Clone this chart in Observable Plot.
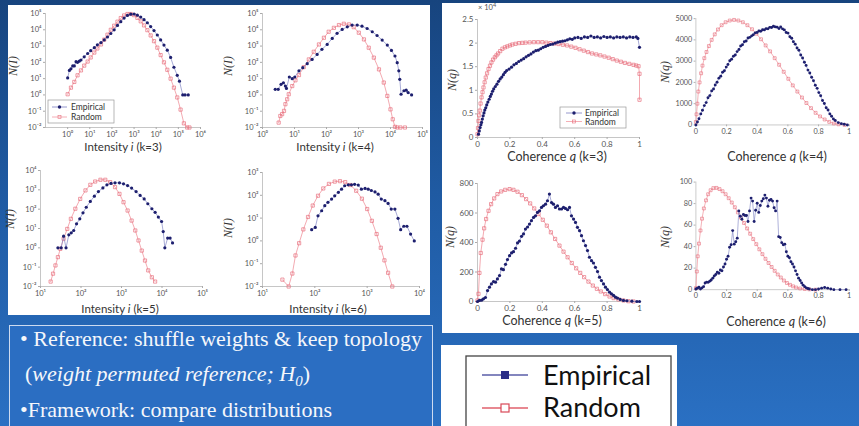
<!DOCTYPE html>
<html><head><meta charset="utf-8">
<script src="https://cdn.jsdelivr.net/npm/d3@7"></script>
<script src="https://cdn.jsdelivr.net/npm/@observablehq/plot@0.6"></script>
<style>
html,body{margin:0;padding:0;background:#1d4f90;}
#page{position:relative;width:859px;height:426px;overflow:hidden;background:linear-gradient(180deg,#17447e 0%,#1f5aa2 45%,#2a70c3 100%);}
.panel{position:absolute;background:#fff;}
.chart{position:absolute;}
.chart svg{display:block;}
#overlay{position:absolute;left:0;top:0;}
.al{font-family:Lato,"Open Sans",sans-serif;font-size:11.5px;fill:#333;text-anchor:middle;}
.cl{font-family:Lato,"Open Sans",sans-serif;font-size:12.5px;fill:#333;text-anchor:middle;}
.nl{font-family:"Liberation Serif",serif;font-style:italic;font-size:12px;fill:#333;text-anchor:middle;}
.lg{font-family:Lato,sans-serif;font-size:8.5px;fill:#333;}
.bt{font-family:"Liberation Serif","Times New Roman",serif;font-size:22px;fill:#f5f7fb;}
.bl{font-family:Lato,"Open Sans",sans-serif;font-size:27px;fill:#111;}
</style></head><body>
<div id="page">
  <div class="panel" style="left:8px;top:5px;width:422px;height:310px"></div>
  <div class="panel" style="left:442px;top:3px;width:417px;height:330px"></div>
  <div style="position:absolute;left:9px;top:325px;width:424px;height:120px;background:#2b6ec2;border:1.5px solid #cddbf0;box-sizing:border-box"></div>
  <div class="panel" style="left:441px;top:345px;width:236px;height:81px"></div>
  <div id="charts"></div>
  <svg id="overlay" width="859" height="426">
    <!-- axis labels -->
    <text class="al" x="123" y="151">Intensity <tspan font-style="italic">i</tspan> (k=3)</text>
    <text class="al" x="335" y="151">Intensity <tspan font-style="italic">i</tspan> (k=4)</text>
    <text class="al" x="120" y="313">Intensity <tspan font-style="italic">i</tspan> (k=5)</text>
    <text class="al" x="328" y="313">Intensity <tspan font-style="italic">i</tspan> (k=6)</text>
    <text class="cl" x="557" y="161">Coherence <tspan font-style="italic">q</tspan> (k=3)</text>
    <text class="cl" x="777" y="161">Coherence <tspan font-style="italic">q</tspan> (k=4)</text>
    <text class="cl" x="552" y="325">Coherence <tspan font-style="italic">q</tspan> (k=5)</text>
    <text class="cl" x="776" y="326">Coherence <tspan font-style="italic">q</tspan> (k=6)</text>
    <text class="nl" transform="translate(17,66) rotate(-90)">N(I)</text>
    <text class="nl" transform="translate(232,66) rotate(-90)">N(I)</text>
    <text class="nl" transform="translate(14,219) rotate(-90)">N(I)</text>
    <text class="nl" transform="translate(232,228) rotate(-90)">N(I)</text>
    <text class="nl" transform="translate(456,80) rotate(-90)">N(q)</text>
    <text class="nl" transform="translate(669,72) rotate(-90)">N(q)</text>
    <text class="nl" transform="translate(454,237) rotate(-90)">N(q)</text>
    <text class="nl" transform="translate(669,237) rotate(-90)">N(q)</text>
    <text x="478" y="10" font-family="Lato,sans-serif" font-size="7.5" fill="#555">× 10<tspan dy="-3" font-size="5.5">4</tspan></text>
    <!-- small legend k=3 intensity -->
    <rect x="48" y="100" width="66" height="23" fill="#fff" stroke="#999" stroke-width="0.7"/>
    <line x1="52" x2="67" y1="107" y2="107" stroke="#7b7fc0" stroke-width="0.8"/>
    <circle cx="59.5" cy="107" r="1.7" fill="#1d1f6e"/>
    <text class="lg" x="71" y="110">Empirical</text>
    <line x1="52" x2="67" y1="117" y2="117" stroke="#f29aa3" stroke-width="0.8"/>
    <rect x="58" y="115.5" width="3" height="3" fill="none" stroke="#e8707e" stroke-width="0.6"/>
    <text class="lg" x="71" y="120">Random</text>
    <!-- small legend k=3 coherence -->
    <rect x="560" y="107" width="66" height="21" fill="#fff" stroke="#999" stroke-width="0.7"/>
    <line x1="566" x2="582" y1="113" y2="113" stroke="#7b7fc0" stroke-width="0.8"/>
    <circle cx="574" cy="113" r="1.7" fill="#1d1f6e"/>
    <text class="lg" x="585" y="116">Empirical</text>
    <line x1="566" x2="582" y1="121.5" y2="121.5" stroke="#f29aa3" stroke-width="0.8"/>
    <rect x="572.5" y="120" width="3" height="3" fill="none" stroke="#e8707e" stroke-width="0.6"/>
    <text class="lg" x="585" y="124.5">Random</text>
    <!-- big legend -->
    <rect x="466" y="356" width="205" height="80" fill="#fff" stroke="#444" stroke-width="1.3"/>
    <line x1="482" x2="528" y1="375" y2="375" stroke="#5a5ea8" stroke-width="1.3"/>
    <rect x="501" y="371" width="8" height="8" fill="#2b2e87"/>
    <text class="bl" x="543" y="385">Empirical</text>
    <line x1="482" x2="528" y1="408" y2="408" stroke="#e0606c" stroke-width="1.3"/>
    <rect x="501" y="404" width="8" height="8" fill="#fff" stroke="#d94858" stroke-width="1.2"/>
    <text class="bl" x="543" y="417">Random</text>
    <!-- bullet text -->
    <text class="bt" x="20" y="346">• Reference: shuffle weights &amp; keep topology</text>
    <text class="bt" x="25" y="381">(<tspan font-style="italic">weight permuted reference; H</tspan><tspan font-style="italic" font-size="15" dy="5">0</tspan><tspan dy="-5">)</tspan></text>
    <text class="bt" x="20" y="417">•Framework: compare distributions</text>
  </svg>
</div>
<script>
// ---------- DATA : [x, y] pairs ----------
// Intensity distributions (log-log)
const intEmpK3 = [[1,11],[1.2,32],[1.41,40],[1.7,60],[2,60],[2.4,110],[2.8,100],[3.4,120],[4,140],[5.6,220],[8,350],[11,520],[16,800],[22,1200],[32,1650],[45,2400],[63,3600],[89,5900],[126,10000],[178,18600],[251,31600],[355,52500],[501,76000],[708,91000],[1000,93000],[1413,79000],[1995,60000],[2818,42000],[3981,27000],[5623,15800],[7943,8900],[11220,4800],[15849,2400],[22387,1150],[31623,560],[44668,200],[63096,50],[89125,16],[112000,7],[158000,1],[200000,1],[280000,1]];
const intRndK3 = [[1,1.1],[1.41,2.8],[2,6.3],[2.8,16],[4,32],[5.6,63],[8,112],[11,200],[16,400],[22,710],[32,1260],[45,2500],[63,5000],[89,10000],[126,17800],[178,31600],[251,52500],[355,76000],[501,93000],[708,93000],[1000,79000],[1413,54000],[1995,33000],[2818,18600],[3981,9500],[5623,4500],[7943,2000],[11220,800],[15849,280],[22387,100],[31623,35],[44668,10],[63096,2.8],[89125,0.7],[125893,0.126],[177828,0.018],[251189,0.01],[316000,0.01]];
const intEmpK4 = [[2.5,2.2],[3.1,2.2],[3.8,4.5],[4.5,5.6],[5.2,3.5],[5.6,2.5],[6.9,12.6],[8.5,10],[10.2,12.6],[13.8,30],[18.2,47],[25,83],[35.5,151],[51,309],[72,631],[105,1259],[151,2951],[214,6026],[309,10471],[447,15136],[631,19498],[912,19498],[1288,16596],[1862,12023],[2692,7586],[3802,4467],[5495,2344],[7943,1148],[10715,537],[13804,245],[16218,95],[18197,30],[19498,9.1],[21380,1.1],[26300,1.8],[30900,1.95],[35500,1.4],[45700,1]];
const intRndK4 = [[3.2,0.02],[3.6,0.051],[4.1,0.066],[4.7,0.105],[5.2,0.27],[5.9,0.54],[6.6,1.1],[8.5,3.5],[10.7,7.9],[13.8,16.6],[19.5,51],[28,151],[40,447],[58,1259],[83,3236],[117,7586],[170,13183],[245,19498],[347,23442],[501,21380],[708,14454],[1023,6607],[1479,2570],[2089,794],[3020,195],[4365,37],[6166,5.75],[7943,0.87],[10000,0.13],[11749,0.032],[13800,0.011],[16218,0.01],[20417,0.01],[28184,0.01]];
const intEmpK5 = [[26.9,1],[32.4,1],[37.2,4],[42.7,1],[50.1,4.7],[57.5,6],[66,7.9],[77.6,17.4],[93.3,31.6],[112,64.6],[135,126],[170,251],[214,468],[269,813],[347,1259],[437,1820],[550,2138],[692,2291],[891,2291],[1122,2042],[1413,1660],[1778,1230],[2291,813],[2884,513],[3631,339],[4467,191],[5623,105],[6761,69],[8128,39],[9772,23],[10715,6.9],[11749,1],[13804,3.2],[15849,3.2],[18197,1.8]];
const intRndK5 = [[17.8,0.018],[20.4,0.046],[23.4,0.123],[26.9,0.33],[30.9,0.89],[37.2,2.95],[45.7,9.5],[56.2,31.6],[72.4,105],[95.5,339],[129,933],[170,1820],[224,2692],[302,3311],[398,3311],[525,2512],[692,1380],[891,617],[1122,229],[1413,85],[1778,25.7],[2188,7.9],[2630,2.4],[3162,0.72],[3802,0.22],[4571,0.068],[5623,0.03],[6761,0.018]];
const intEmpK6 = [[87,3.1],[102,3.9],[115,12.6],[135,21],[155,35],[178,49],[209,68],[240,95],[282,135],[324,186],[372,263],[437,288],[501,288],[575,302],[676,282],[776,186],[912,200],[1047,186],[1202,162],[1413,141],[1622,112],[1862,68],[2188,58],[2512,44],[2884,25],[3388,25],[3890,9.8],[4365,3.1],[5012,4.4],[5754,4.4],[6761,2],[7943,1]];
const intRndK6 = [[24,0.02],[31.6,0.01],[37.2,0.037],[42.7,0.23],[50.1,0.79],[60.3,3.2],[74.1,11.2],[91.2,35.5],[115,95.5],[145,200],[186,316],[240,398],[302,417],[380,380],[479,282],[617,158],[794,71],[1000,25],[1230,7.6],[1514,2],[1820,0.5],[2138,0.14],[2512,0.04],[3020,0.01]];

// Coherence distributions (linear)
const cohEmpK3 = [[0.006,700],[0.011,1400],[0.016,2100],[0.021,2700],[0.025,3200],[0.03,3900],[0.035,4600],[0.04,5200],[0.045,5800],[0.051,6300],[0.057,6900],[0.064,7500],[0.072,8100],[0.079,8700],[0.086,9200],[0.093,9800],[0.1,10300],[0.11,10800],[0.12,11300],[0.13,11900],[0.14,12400],[0.15,12800],[0.16,13300],[0.17,13800],[0.18,14200],[0.195,14500],[0.21,14900],[0.225,15400],[0.24,15700],[0.255,16100],[0.27,16400],[0.285,16700],[0.3,17100],[0.315,17400],[0.33,17700],[0.345,18100],[0.36,18400],[0.375,18500],[0.39,18800],[0.405,19100],[0.42,19300],[0.435,19500],[0.45,19700],[0.465,19800],[0.48,20000],[0.495,20200],[0.51,20300],[0.525,20400],[0.54,20500],[0.555,20700],[0.57,20900],[0.585,20800],[0.6,21100],[0.62,21200],[0.64,21000],[0.66,21300],[0.68,21200],[0.7,21500],[0.72,21200],[0.74,21300],[0.76,21100],[0.78,21400],[0.8,21200],[0.82,21300],[0.84,21100],[0.86,21300],[0.88,21200],[0.9,21300],[0.92,21100],[0.94,21300],[0.96,21200],[0.98,21300],[0.99,21000],[1.0,19100]];
const cohRndK3 = [[0,700],[0.003,2000],[0.006,3500],[0.01,4700],[0.014,5700],[0.019,7200],[0.025,8500],[0.031,9600],[0.037,10600],[0.044,11700],[0.051,12700],[0.059,13600],[0.068,14500],[0.077,15200],[0.086,15900],[0.096,16500],[0.107,17000],[0.117,17400],[0.127,17800],[0.14,18300],[0.154,18800],[0.169,19100],[0.184,19300],[0.2,19500],[0.215,19700],[0.235,19850],[0.256,20000],[0.277,20050],[0.297,20100],[0.322,20150],[0.348,20200],[0.374,20200],[0.4,20200],[0.425,20100],[0.45,20000],[0.475,19900],[0.5,19800],[0.527,19650],[0.553,19500],[0.579,19250],[0.605,19000],[0.63,18700],[0.656,18400],[0.682,18100],[0.707,17800],[0.733,17600],[0.758,17400],[0.784,17150],[0.81,16900],[0.835,16600],[0.86,16300],[0.885,16050],[0.91,15800],[0.937,15600],[0.963,15400],[0.98,15250],[0.994,15100],[1.0,13500],[1.0,8000]];
const cohEmpK4 = [[0,0],[0.01,140],[0.02,290],[0.032,520],[0.043,690],[0.055,910],[0.067,1050],[0.079,1280],[0.091,1380],[0.103,1600],[0.115,1690],[0.126,1880],[0.138,2010],[0.15,2200],[0.162,2290],[0.174,2480],[0.186,2550],[0.198,2720],[0.209,2840],[0.221,3020],[0.233,3090],[0.245,3230],[0.257,3290],[0.269,3450],[0.281,3550],[0.292,3710],[0.304,3770],[0.316,3910],[0.328,3950],[0.34,4090],[0.352,4120],[0.364,4190],[0.375,4240],[0.387,4330],[0.399,4350],[0.411,4420],[0.423,4410],[0.435,4480],[0.447,4470],[0.458,4530],[0.47,4520],[0.482,4590],[0.494,4580],[0.506,4640],[0.518,4610],[0.53,4600],[0.542,4530],[0.553,4610],[0.565,4520],[0.577,4470],[0.589,4350],[0.601,4320],[0.613,4150],[0.625,4080],[0.636,3910],[0.648,3800],[0.66,3620],[0.672,3510],[0.684,3290],[0.696,3150],[0.708,2950],[0.719,2800],[0.731,2580],[0.743,2440],[0.755,2240],[0.767,2080],[0.779,1870],[0.791,1720],[0.802,1520],[0.814,1370],[0.826,1150],[0.838,1010],[0.85,810],[0.862,700],[0.874,520],[0.885,410],[0.897,280],[0.909,210],[0.929,110],[0.949,60],[0.968,30],[0.988,0]];
const cohRndK4 = [[0,140],[0.004,500],[0.01,1000],[0.016,1570],[0.024,2000],[0.034,2430],[0.043,2790],[0.055,3140],[0.069,3430],[0.085,3710],[0.103,4000],[0.123,4260],[0.144,4490],[0.168,4690],[0.194,4830],[0.221,4910],[0.249,4940],[0.277,4910],[0.306,4830],[0.336,4690],[0.366,4500],[0.395,4290],[0.425,4030],[0.455,3740],[0.484,3460],[0.514,3140],[0.543,2830],[0.573,2500],[0.603,2170],[0.632,1860],[0.662,1570],[0.692,1290],[0.721,1030],[0.751,790],[0.781,570],[0.81,400],[0.84,257],[0.87,143],[0.9,70],[0.93,30],[0.97,0]];
const cohEmpK5 = [[0,0],[0.012,7],[0.025,9],[0.037,18],[0.049,27],[0.062,74],[0.074,97],[0.086,119],[0.099,135],[0.111,131],[0.123,153],[0.136,176],[0.148,221],[0.16,216],[0.173,252],[0.185,284],[0.198,311],[0.21,329],[0.222,338],[0.235,361],[0.247,397],[0.259,410],[0.272,442],[0.284,458],[0.296,491],[0.309,505],[0.321,525],[0.333,548],[0.346,570],[0.358,581],[0.37,604],[0.383,615],[0.395,638],[0.407,649],[0.42,660],[0.432,683],[0.444,728],[0.457,671],[0.469,660],[0.481,638],[0.494,649],[0.506,627],[0.519,627],[0.531,638],[0.543,631],[0.556,622],[0.568,638],[0.58,581],[0.593,559],[0.605,536],[0.617,503],[0.63,480],[0.642,446],[0.654,412],[0.667,379],[0.679,345],[0.691,300],[0.704,277],[0.716,261],[0.728,232],[0.741,203],[0.753,165],[0.765,142],[0.778,119],[0.79,97],[0.802,81],[0.815,63],[0.827,52],[0.84,41],[0.852,29],[0.864,23],[0.881,14],[0.901,7],[0.922,5],[0.953,2],[0.984,0],[1.0,0]];
const cohRndK5 = [[0,7],[0.006,52],[0.012,194],[0.02,329],[0.031,419],[0.041,496],[0.053,559],[0.068,615],[0.084,660],[0.103,699],[0.123,728],[0.146,746],[0.171,757],[0.198,762],[0.222,757],[0.247,744],[0.274,721],[0.3,694],[0.325,665],[0.35,631],[0.377,593],[0.403,554],[0.428,514],[0.453,469],[0.479,424],[0.506,379],[0.531,338],[0.556,300],[0.582,261],[0.609,225],[0.634,194],[0.658,165],[0.685,135],[0.712,108],[0.737,86],[0.761,68],[0.788,50],[0.815,34],[0.84,23],[0.87,14],[0.901,7],[0.932,2],[0.963,0]];
const cohEmpK6 = [[0,0.6],[0.01,1.4],[0.02,2.3],[0.03,0.6],[0.04,1.7],[0.05,2.8],[0.06,6.2],[0.07,7],[0.08,6.8],[0.09,7.9],[0.1,9],[0.11,10.7],[0.12,12.7],[0.13,14.1],[0.14,16.3],[0.15,15.2],[0.16,18.3],[0.17,17.5],[0.18,21.1],[0.19,23.9],[0.2,28.2],[0.21,31],[0.22,39.4],[0.23,41.7],[0.24,54.9],[0.25,42.3],[0.26,44.5],[0.27,47.9],[0.28,73.2],[0.29,68.2],[0.3,65.4],[0.31,69.9],[0.32,69],[0.33,69],[0.34,63.4],[0.35,73.2],[0.36,85.1],[0.37,82.3],[0.38,63.4],[0.39,73.8],[0.4,80.3],[0.41,71.8],[0.42,78.3],[0.43,82.3],[0.44,84.5],[0.45,87.9],[0.46,85.1],[0.47,77.5],[0.48,83.1],[0.49,83.9],[0.5,82.3],[0.51,76.1],[0.52,73.2],[0.53,82.3],[0.54,49.3],[0.55,48.5],[0.56,43.7],[0.57,41.7],[0.58,42.3],[0.59,35.2],[0.6,31],[0.61,29.6],[0.62,25.9],[0.63,23.9],[0.64,21.1],[0.65,17.5],[0.66,14.1],[0.67,10.7],[0.68,8.5],[0.69,6.2],[0.7,4.2],[0.71,2.8],[0.72,1.7],[0.73,1.1],[0.74,0.6],[0.76,0],[0.78,0],[0.8,0.6],[0.82,1.4],[0.84,2],[0.86,1.4],[0.88,0.6],[0.9,0],[0.94,0],[0.98,0]];
const cohRndK6 = [[0,1.4],[0.006,16.9],[0.012,31],[0.02,42.8],[0.03,55],[0.04,66],[0.052,75.5],[0.066,83],[0.08,88.7],[0.096,92.4],[0.114,94.4],[0.134,94.6],[0.154,93.5],[0.174,91.5],[0.194,88.7],[0.214,85],[0.234,81],[0.254,76.6],[0.274,71.8],[0.294,67],[0.314,62],[0.334,56.9],[0.354,52],[0.374,47],[0.394,42.3],[0.414,37.5],[0.434,33],[0.454,28.7],[0.474,24.8],[0.494,21.1],[0.514,17.5],[0.534,14.1],[0.554,11.3],[0.574,8.5],[0.594,6.2],[0.614,4.5],[0.634,3.1],[0.654,2],[0.68,1.1],[0.71,0.6],[0.74,0.3],[0.78,0]];

// tick values
const decades = [1e-2,1e-1,1,1e1,1e2,1e3,1e4,1e5,1e6];
const qTicks = [0,0.2,0.4,0.6,0.8,1];
const k3Ticks = [0,5000,10000,15000,20000,25000];
const k4Ticks = [0,1000,2000,3000,4000,5000];
const k5Ticks = [0,200,400,600,800];
const k6Ticks = [0,20,40,60,80,100];

// ---------- helpers ----------
const SUP = {"-":"⁻","0":"⁰","1":"¹","2":"²","3":"³","4":"⁴","5":"⁵","6":"⁶","7":"⁷","8":"⁸","9":"⁹"};
const logFmt = d => "10" + String(Math.round(Math.log10(d))).split("").map(c => SUP[c]).join("");
const inDom = (t, dom) => t.filter(v => v >= dom[0] - 1e-12 && v <= dom[1] + 1e-12);

function makeChart(c) {
  const fx = d => d[0], fy = d => d[1];
  const svg = Plot.plot({
    width: c.w, height: c.h,
    marginTop: c.m[0], marginRight: c.m[1], marginBottom: c.m[2], marginLeft: c.m[3],
    style: {background: "transparent", overflow: "visible", fontFamily: "Lato, 'Open Sans', sans-serif", fontSize: c.fs + "px", color: "#555"},
    x: {type: c.xType, domain: c.xDom},
    y: {type: c.yType, domain: c.yDom},
    marks: [
      Plot.frame({anchor: "left", stroke: "#b8b8b8", strokeWidth: 0.8}),
      Plot.frame({anchor: "bottom", stroke: "#b8b8b8", strokeWidth: 0.8}),
      Plot.axisX({ticks: c.xTicks, tickFormat: c.xFmt, tickSize: 2, tickPadding: 2, fontSize: c.fs, fill: "#555", stroke: "#aaa", label: null}),
      Plot.axisY({ticks: c.yTicks, tickFormat: c.yFmt, tickSize: 2, tickPadding: 2, fontSize: c.fs, fill: "#555", stroke: "#aaa", label: null}),
      Plot.line(c.rnd, {x: fx, y: fy, stroke: "#f2a0a8", strokeWidth: 0.9}),
      Plot.dot(c.rnd, {x: fx, y: fy, symbol: "square", r: 1.8, stroke: "#e8707e", strokeWidth: 0.7, fill: "none"}),
      Plot.line(c.emp, {x: fx, y: fy, stroke: "#8185c4", strokeWidth: 0.7}),
      Plot.dot(c.emp, {x: fx, y: fy, r: 1.6, fill: "#1d1f6e", stroke: "none"})
    ]
  });
  const div = document.createElement("div");
  div.className = "chart";
  div.style.left = c.left + "px";
  div.style.top = c.top + "px";
  div.appendChild(svg);
  document.getElementById("charts").appendChild(div);
}

const qFmt = d => String(d);
const specs = [
  {left: 0, top: 0, w: 215, h: 150, m: [13, 15, 23, 45], xType: "log", yType: "log", xDom: [1e-1, 1e6], yDom: [1e-2, 1e5], fs: 7.5, emp: intEmpK3, rnd: intRndK3},
  {left: 215, top: 0, w: 215, h: 150, m: [13, 8, 23, 47], xType: "log", yType: "log", xDom: [1, 1e5], yDom: [1e-2, 1e5], fs: 7.5, emp: intEmpK4, rnd: intRndK4},
  {left: 0, top: 155, w: 215, h: 150, m: [15, 13, 19, 40], xType: "log", yType: "log", xDom: [1e1, 1e5], yDom: [1e-2, 1e4], fs: 7.5, emp: intEmpK5, rnd: intRndK5},
  {left: 215, top: 155, w: 215, h: 150, m: [17, 11, 19, 47], xType: "log", yType: "log", xDom: [1e1, 1e4], yDom: [1e-2, 1e3], fs: 7.5, emp: intEmpK6, rnd: intRndK6},
  {left: 440, top: 0, w: 210, h: 150, m: [19, 11, 13, 37], xType: "linear", yType: "linear", xDom: [0, 1], yDom: [0, 25000], fs: 8, emp: cohEmpK3, rnd: cohRndK3, yTicks: k3Ticks, yFmt: d => String(d / 1e4)},
  {left: 650, top: 0, w: 230, h: 150, m: [20, 11.3, 13, 50], xType: "linear", yType: "linear", xDom: [0, 1], yDom: [0, 5000], fs: 8, emp: cohEmpK4, rnd: cohRndK4, yTicks: k4Ticks, yFmt: d => String(d)},
  {left: 440, top: 165, w: 210, h: 150, m: [18, 11, 14, 37], xType: "linear", yType: "linear", xDom: [0, 1], yDom: [0, 800], fs: 8, emp: cohEmpK5, rnd: cohRndK5, yTicks: k5Ticks, yFmt: d => String(d)},
  {left: 650, top: 165, w: 230, h: 150, m: [18.3, 11.3, 13.3, 50], xType: "linear", yType: "linear", xDom: [0, 1], yDom: [0, 100], fs: 8, emp: cohEmpK6, rnd: cohRndK6, yTicks: k6Ticks, yFmt: d => String(d)}
];
for (const s of specs) {
  if (s.xType === "log") {
    s.xTicks = inDom(decades, s.xDom).filter(v => v >= 1 || s.xDom[0] >= 1 ? v >= Math.max(1, s.xDom[0]) : false);
    s.yTicks = inDom(decades, s.yDom);
    s.xFmt = logFmt; s.yFmt = logFmt;
  } else {
    s.xTicks = qTicks; s.xFmt = qFmt;
  }
  makeChart(s);
}
</script>
</body></html>
